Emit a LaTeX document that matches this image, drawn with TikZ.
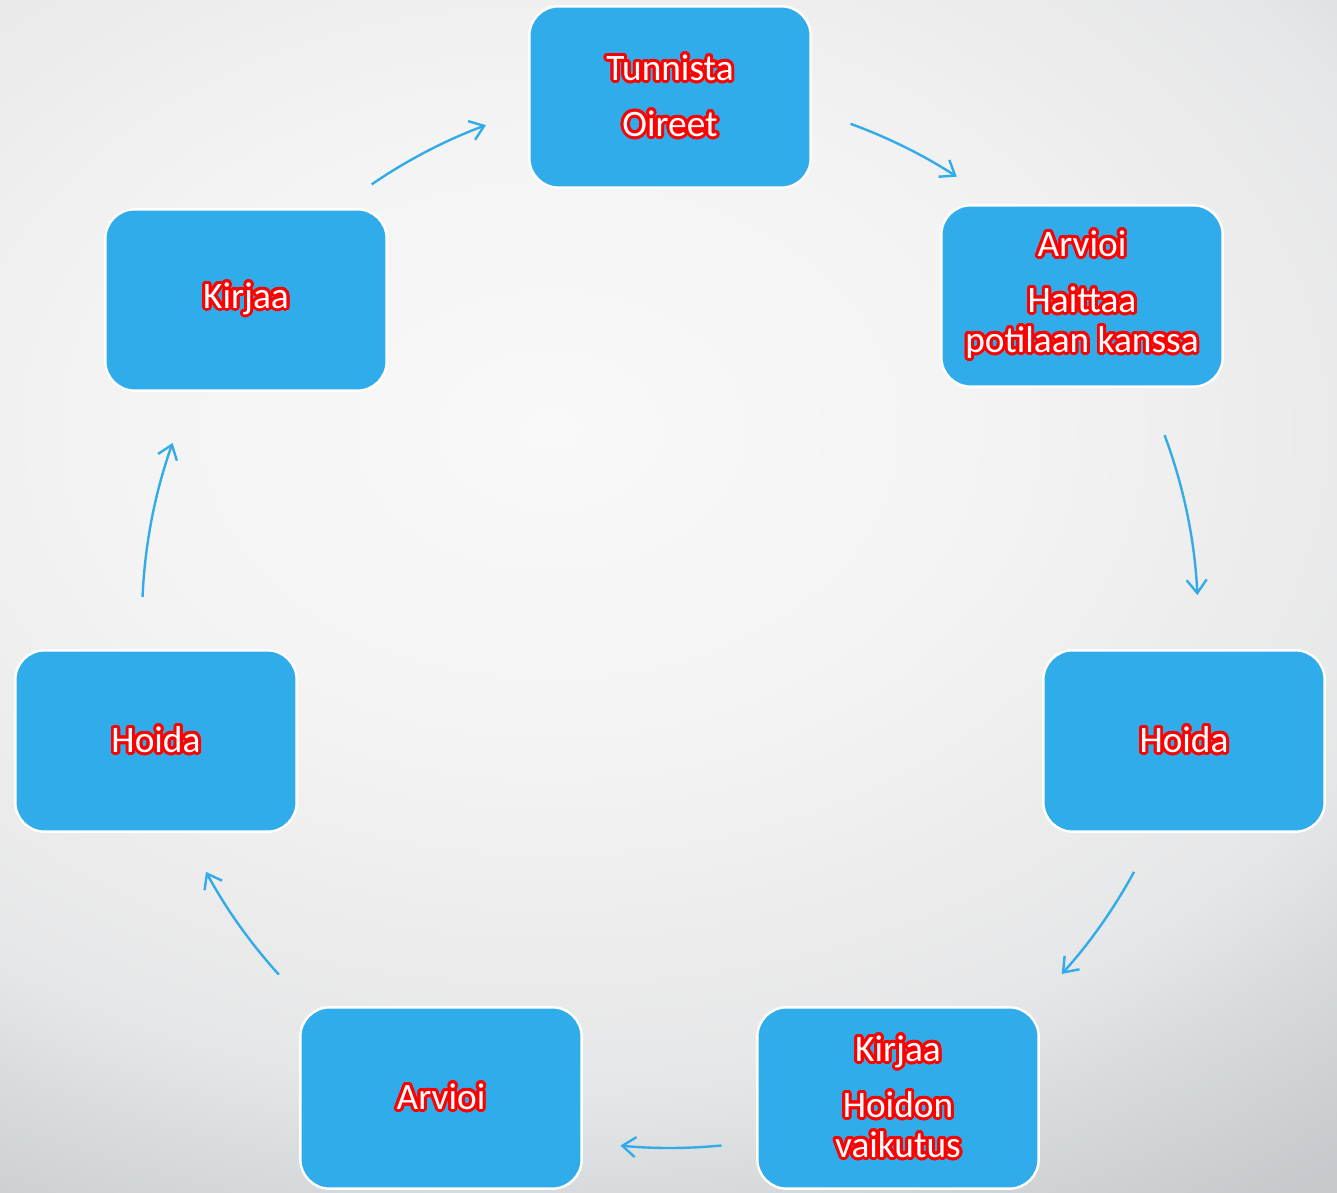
\documentclass[tikz,border=0pt]{standalone}
\usepackage{fontspec}
\setmainfont{Carlito}
\usepackage{contour}
\contourlength{2.2pt}
\contournumber{24}
\usetikzlibrary{calc,arrows.meta}

\definecolor{boxblue}{RGB}{49,172,234}
\definecolor{arrblue}{RGB}{51,171,232}
\definecolor{bgout}{rgb}{.776,.788,.8}
% soft page background (25bp = edge of the shaded path)
\pgfdeclareradialshading{pagebg}{\pgfpoint{0bp}{0bp}}{%
    rgb(0bp)=(.976,.976,.976); rgb(8.4bp)=(.953,.953,.953);
    rgb(13.5bp)=(.922,.922,.925); rgb(16.3bp)=(.902,.906,.91);
    rgb(20bp)=(.827,.843,.851); rgb(22.3bp)=(.792,.804,.816);
    rgb(23.2bp)=(.776,.788,.8); rgb(50bp)=(.776,.788,.8)}
\newcommand{\glow}[1]{\contour{red}{#1}}

\begin{document}
\begin{tikzpicture}[x=0.75pt,y=0.75pt]
    \tikzstyle{box} = [draw=white, line width=1.8pt, fill=boxblue, rounded corners=22pt,
        minimum width=211pt, minimum height=136pt, align=center, text=white,
        font=\fontsize{28pt}{30pt}\selectfont]
    \tikzstyle{arr} = [draw=arrblue, line width=1.8pt,
        -{Straight Barb[length=10pt,width=15pt,line width=1.8pt]}]

    % background
    \useasboundingbox (0,0) rectangle (1337,1192);
    \fill[bgout] (0,0) rectangle (1337,1192);
    \begin{scope}
        \clip (0,0) rectangle (1337,1192);
        \shade[shading=pagebg] (550,762) ellipse (1400 and 1000);
    \end{scope}

    % steps
    \node[box] (tunnista) at (670,1095) {\glow{Tunnista}\\[12pt]\glow{Oireet}};
    \node[box] (arvioi1) at (1082,896) {\glow{Arvioi}\\[12pt]\glow{Haittaa}\\\glow{potilaan kanssa}};
    \node[box] (hoida1) at (1184,451) {\glow{Hoida}};
    \node[box] (kirjaa1) at (898,94) {\glow{Kirjaa}\\[12pt]\glow{Hoidon}\\\glow{vaikutus}};
    \node[box] (arvioi2) at (441,94) {\glow{Arvioi}};
    \node[box] (hoida2) at (156,451) {\glow{Hoida}};
    \node[box] (kirjaa2) at (246,892) {\glow{Kirjaa}};

    % cycle arrows
    \coordinate (c) at (670,572);
    \foreach \s/\e [count=\i] in {124.4/110.4, 70/57.1, 20.5/2.7, -28.5/-42.1,
                                  -84.4/-95.4, 222.2/208.5, 177.5/160.4} {
        \coordinate (s\i) at ($(c)+(\s:528)$);
        \draw[arr] (s\i) arc[start angle=\s, end angle=\e, radius=528];
    }
\end{tikzpicture}
\end{document}
